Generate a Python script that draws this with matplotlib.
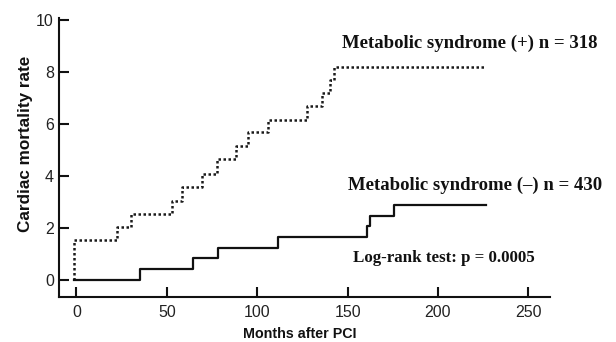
import matplotlib
matplotlib.use('Agg')
import matplotlib.pyplot as plt

# Cumulative cardiac mortality
plus_months = [-1.5, -1.5, 22.6, 30.0, 52.8, 58.1, 69.7, 77.9, 88.2, 94.9,
               105.7, 127.8, 135.8, 140.5, 142.5, 226.5]
plus_rate = [0, 1.55, 2.05, 2.55, 3.05, 3.6, 4.1, 4.65, 5.15, 5.7,
             6.15, 6.7, 7.2, 7.7, 8.2, 8.2]

minus_months = [-1.5, 35.4, 64.2, 78.5, 111.6, 160.9, 162.5, 175.8, 226.3]
minus_rate = [0, 0.42, 0.84, 1.25, 1.66, 2.08, 2.49, 2.9, 2.9]

x_ticks = [0, 50, 100, 150, 200, 250]
y_ticks = [0, 2, 4, 6, 8, 10]

fig = plt.figure(figsize=(6.16, 3.42), dpi=100)
ax = fig.add_axes([0.0963, 0.1325, 0.7966, 0.8157])

ax.step(plus_months, plus_rate, where='post', color='#1a1a1a',
        linestyle=(0, (1, 1)), linewidth=1.8)
ax.step(minus_months, minus_rate, where='post', color='#111111',
        linewidth=1.6)

ax.set_xlim(-9.5, 262)
ax.set_ylim(-0.63, 10.1)
ax.set_xticks(x_ticks)
ax.set_yticks(y_ticks)

for side in ['top', 'right']:
    ax.spines[side].set_visible(False)
for side in ['left', 'bottom']:
    ax.spines[side].set_linewidth(1.5)
    ax.spines[side].set_color('#111111')

ax.tick_params(axis='both', direction='in', length=7.5, width=1.5,
               color='#111111', labelsize=11.5, labelcolor='#222222')
ax.tick_params(axis='y', pad=4)
ax.tick_params(axis='x', pad=6)
for lab in ax.get_xticklabels() + ax.get_yticklabels():
    lab.set_family('Liberation Sans')

fig.text(0.041, 0.578, 'Cardiac mortality rate', rotation=90,
         ha='center', va='center', fontsize=12.3, fontweight='bold',
         family='Liberation Sans', color='#111111')
fig.text(0.486, 0.004, 'Months after PCI', ha='center', va='bottom',
         fontsize=10.3, fontweight='bold', family='Liberation Sans',
         color='#111111')

fig.text(0.5547, 0.8588, 'Metabolic syndrome (+) n = 318', ha='left',
         va='baseline', fontsize=13.5, fontweight='bold',
         family='Liberation Serif', color='#111111')
fig.text(0.5654, 0.4459, 'Metabolic syndrome (\u2013) n = 430', ha='left',
         va='baseline', fontsize=13.5, fontweight='bold',
         family='Liberation Serif', color='#111111')
fig.text(0.5735, 0.2339, 'Log-rank test: p = 0.0005', ha='left',
         va='baseline', fontsize=12.2, fontweight='bold',
         family='Liberation Serif', color='#111111')

fig.savefig('out.png', dpi=100)
